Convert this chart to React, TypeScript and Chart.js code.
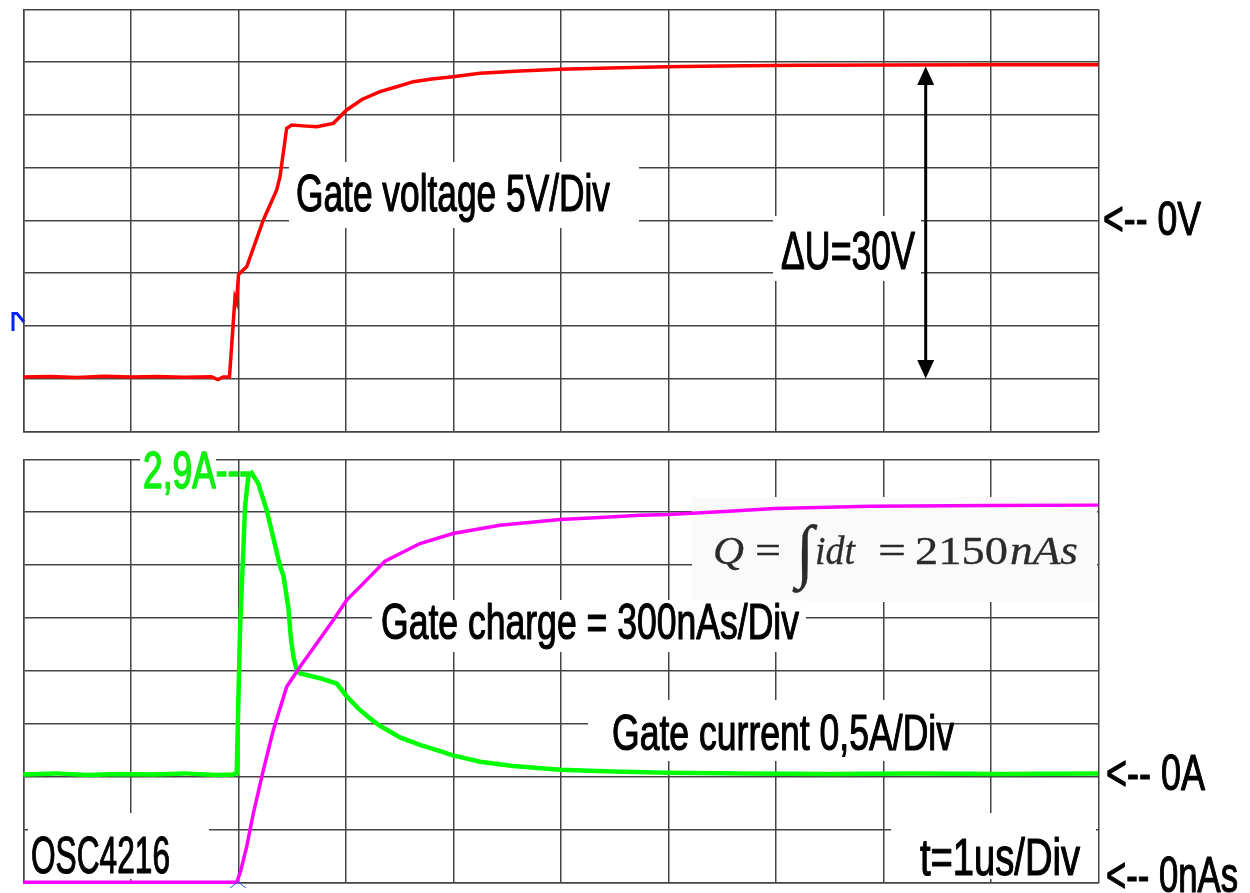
import React, { useEffect, useRef } from 'react';
import { Chart, registerables } from 'chart.js';

Chart.register(...registerables);

// Time axis (µs), 1 µs / div
const timeMin = 0;
const timeMax = 10;
const timeStep = 1;

// Upper trace: gate voltage (V), 5 V / div, 0 V at centre
const voltageMin = -20;
const voltageMax = 20;
const voltageStep = 5;

// Lower traces: gate current (A), 0.5 A / div, and gate charge (nAs), 300 nAs / div
const currentMin = -1;
const currentMax = 3;
const currentStep = 0.5;
const chargeMin = 0;
const chargeMax = 2400;

const voltageTime = [0, 0.25, 0.5, 0.75, 1.0, 1.25, 1.5, 1.75, 1.81, 1.86, 1.918, 1.969, 1.983, 2.002, 2.025, 2.078, 2.233, 2.357, 2.388, 2.45, 2.497, 2.6, 2.729, 2.884, 3.008, 3.15, 3.318, 3.473, 3.628, 3.8, 3.997, 4.248, 4.62, 4.993, 5.551, 5.988, 6.481, 7.225, 8.1, 9.0, 10];
const gateVoltage = [-14.85, -14.8, -14.9, -14.78, -14.85, -14.8, -14.88, -14.82, -15.1, -14.85, -14.85, -7.36, -7.74, -5.18, -4.9, -4.4, 0.03, 2.87, 4.13, 8.72, 9.03, 8.95, 8.87, 9.19, 10.46, 11.45, 12.19, 12.66, 13.14, 13.4, 13.61, 13.93, 14.15, 14.31, 14.46, 14.56, 14.63, 14.69, 14.72, 14.74, 14.75];

const currentTime = [0, 0.3, 0.6, 0.9, 1.2, 1.5, 1.8, 1.951, 1.985, 2.016, 2.063, 2.093, 2.125, 2.186, 2.264, 2.388, 2.42, 2.465, 2.49, 2.515, 2.545, 2.574, 2.76, 2.915, 3.008, 3.12, 3.225, 3.318, 3.504, 3.69, 3.876, 3.997, 4.25, 4.555, 4.993, 5.486, 5.988, 6.7, 7.5, 8.3, 9.1, 10];
const gateCurrent = [0.02, 0.03, 0.015, 0.025, 0.02, 0.03, 0.015, 0.02, 0.03, 1.39, 2.55, 2.84, 2.87, 2.77, 2.52, 1.99, 1.9, 1.6, 1.3, 1.12, 1.0, 0.975, 0.93, 0.88, 0.76, 0.64, 0.55, 0.48, 0.37, 0.3, 0.24, 0.2, 0.14, 0.1, 0.065, 0.048, 0.036, 0.03, 0.025, 0.03, 0.025, 0.03];

const chargeTime = [0, 1.985, 2.02, 2.078, 2.14, 2.233, 2.326, 2.45, 2.574, 2.729, 2.884, 3.008, 3.163, 3.365, 3.69, 3.997, 4.434, 4.993, 5.365, 5.737, 6.0, 6.481, 6.993, 7.876, 9.0, 10];
const gateCharge = [0, 0, 60, 202, 391, 637, 864, 1109, 1223, 1355, 1488, 1601, 1696, 1822, 1922, 1979, 2026, 2059, 2070, 2083, 2087, 2102, 2121, 2134, 2138, 2140];

const toPoints = (xs: number[], ys: number[]) => xs.map((x, i) => ({ x, y: ys[i] }));

const GRID = '#444444';
const SANS = '"Liberation Sans", Arial, sans-serif';
const SERIF = '"Liberation Serif", "Times New Roman", serif';

function label(ctx: CanvasRenderingContext2D, text: string, x: number, base: number, size: number, width: number, color: string, family = SANS, style = '', stroke = 1.2) {
  ctx.save();
  ctx.font = `${style} ${size}px ${family}`;
  const w = ctx.measureText(text).width;
  ctx.translate(x, base);
  ctx.scale(width / w, 1);
  ctx.fillStyle = color;
  ctx.strokeStyle = color;
  ctx.lineJoin = 'round';
  ctx.textAlign = 'left';
  ctx.textBaseline = 'alphabetic';
  ctx.fillText(text, 0, 0);
  if (stroke > 0) {
    ctx.lineWidth = stroke;
    ctx.strokeText(text, 0, 0);
  }
  ctx.restore();
}

function box(ctx: CanvasRenderingContext2D, x: number, y: number, w: number, h: number, color = '#ffffff') {
  ctx.fillStyle = color;
  ctx.fillRect(x, y, w, h);
}

function xScale() {
  return {
    type: 'linear' as const,
    min: timeMin,
    max: timeMax,
    ticks: { stepSize: timeStep, display: false },
    grid: { color: GRID, lineWidth: 1.5, drawTicks: false },
    border: { display: true, color: GRID, width: 1.5 },
    afterFit: (s: any) => { s.height = 0; },
  };
}

function yScale(min: number, max: number, step: number) {
  return {
    type: 'linear' as const,
    min,
    max,
    ticks: { stepSize: step, display: false },
    grid: { color: GRID, lineWidth: 1.5, drawTicks: false },
    border: { display: true, color: GRID, width: 1.5 },
    afterFit: (s: any) => { s.width = 0; },
  };
}

const topOverlay = {
  id: 'topOverlay',
  beforeDatasetsDraw(chart: any) {
    const ctx = chart.ctx as CanvasRenderingContext2D;
    ctx.save();
    box(ctx, 289, 162, 350, 66);
    box(ctx, 773, 216, 148, 65);
    ctx.restore();
  },
  afterDatasetsDraw(chart: any) {
    const ctx = chart.ctx as CanvasRenderingContext2D;
    ctx.save();
    label(ctx, 'Gate voltage 5V/Div', 296, 211, 51, 314, '#000');
    label(ctx, 'ΔU=30V', 781, 269, 53, 134, '#000');
    label(ctx, '<-- 0V', 1103, 235, 49, 98, '#000');
    // double arrow
    const ax = 925.7;
    ctx.strokeStyle = '#000';
    ctx.fillStyle = '#000';
    ctx.lineWidth = 3;
    ctx.beginPath();
    ctx.moveTo(ax, 80);
    ctx.lineTo(ax, 365);
    ctx.stroke();
    ctx.beginPath();
    ctx.moveTo(ax, 66.5);
    ctx.lineTo(ax - 8.5, 85);
    ctx.lineTo(ax + 8.5, 85);
    ctx.closePath();
    ctx.fill();
    ctx.beginPath();
    ctx.moveTo(ax, 378.5);
    ctx.lineTo(ax - 8.5, 360);
    ctx.lineTo(ax + 8.5, 360);
    ctx.closePath();
    ctx.fill();
    // trigger marker
    ctx.strokeStyle = '#0022ff';
    ctx.lineWidth = 3;
    ctx.beginPath();
    ctx.moveTo(13, 331);
    ctx.lineTo(13, 313.5);
    ctx.lineTo(17, 313.5);
    ctx.lineTo(24, 322);
    ctx.stroke();
    ctx.restore();
  },
};

const OFFSET = 445;

const bottomOverlay = {
  id: 'bottomOverlay',
  beforeDatasetsDraw(chart: any) {
    const ctx = chart.ctx as CanvasRenderingContext2D;
    ctx.save();
    ctx.translate(0, -OFFSET);
    box(ctx, 140, 446, 76, 48);
    box(ctx, 692, 497, 405, 105, '#fafafa');
    box(ctx, 372, 600, 434, 52);
    box(ctx, 588, 700, 352, 61);
    box(ctx, 28, 813, 181, 66);
    box(ctx, 891, 813, 205, 66);
    ctx.restore();
  },
  afterDatasetsDraw(chart: any) {
    const ctx = chart.ctx as CanvasRenderingContext2D;
    ctx.save();
    ctx.translate(0, -OFFSET);
    label(ctx, '2,9A---', 143, 488, 51, 108, '#11ee11', SANS, '', 1.6);
    label(ctx, 'Gate charge = 300nAs/Div', 381, 639, 50, 418, '#000');
    label(ctx, 'Gate current 0,5A/Div', 612, 750, 50, 342, '#000');
    label(ctx, '<-- 0A', 1106, 790, 50, 99, '#000');
    label(ctx, 'OSC4216', 31, 873, 52, 139, '#000');
    label(ctx, 't=1us/Div', 920, 875, 51, 160, '#000');
    label(ctx, '<-- 0nAs', 1106, 892, 50, 132, '#000');
    // formula
    const fc = '#2b2b2b';
    label(ctx, 'Q', 713, 564, 40, 31, fc, SERIF, 'italic', 0.3);
    label(ctx, '=', 755, 564, 40, 26, fc, SERIF, '', 0.3);
    label(ctx, '∫', 796, 574, 70, 18, fc, SERIF, '', 0.3);
    label(ctx, 'idt', 815, 564, 40, 40, fc, SERIF, 'italic', 0.3);
    label(ctx, '=', 878, 564, 40, 28, fc, SERIF, '', 0.3);
    label(ctx, '2150', 915, 564, 40, 93, fc, SERIF, '', 0.3);
    label(ctx, 'nAs', 1010, 564, 40, 68, fc, SERIF, 'italic', 0.3);
    // trigger marker
    ctx.strokeStyle = '#3355ff';
    ctx.lineWidth = 1;
    ctx.beginPath();
    ctx.moveTo(230, 888);
    ctx.lineTo(238, 882);
    ctx.lineTo(246, 888);
    ctx.stroke();
    ctx.restore();
  },
};

export default function App() {
  const topRef = useRef<HTMLCanvasElement>(null);
  const bottomRef = useRef<HTMLCanvasElement>(null);

  useEffect(() => {
    const top = new Chart(topRef.current as HTMLCanvasElement, {
      type: 'line',
      data: {
        datasets: [
          {
            label: 'Gate voltage',
            data: toPoints(voltageTime, gateVoltage),
            borderColor: '#ff0000',
            borderWidth: 3.5,
            pointRadius: 0,
            tension: 0,
            fill: false,
          },
        ],
      },
      options: {
        responsive: false,
        animation: false,
        events: [],
        layout: { padding: { left: 23.3, right: 151.7, top: 9.3, bottom: 13.7 } },
        plugins: { legend: { display: false }, tooltip: { enabled: false } },
        scales: {
          x: xScale(),
          y: yScale(voltageMin, voltageMax, voltageStep),
        },
      } as any,
      plugins: [topOverlay],
    });

    const bottom = new Chart(bottomRef.current as HTMLCanvasElement, {
      type: 'line',
      data: {
        datasets: [
          {
            label: 'Gate charge',
            data: toPoints(chargeTime, gateCharge),
            borderColor: '#ff00ff',
            borderWidth: 3.5,
            pointRadius: 0,
            tension: 0,
            fill: false,
            yAxisID: 'yQ',
            clip: 5,
          },
          {
            label: 'Gate current',
            data: toPoints(currentTime, gateCurrent),
            borderColor: '#00ff00',
            borderWidth: 4.5,
            pointRadius: 0,
            tension: 0,
            fill: false,
            yAxisID: 'y',
            clip: 5,
          },
        ],
      },
      options: {
        responsive: false,
        animation: false,
        events: [],
        layout: { padding: { left: 23.3, right: 151.7, top: 14.3, bottom: 10.7 } },
        plugins: { legend: { display: false }, tooltip: { enabled: false } },
        scales: {
          x: xScale(),
          y: yScale(currentMin, currentMax, currentStep),
          yQ: { type: 'linear', display: false, min: chargeMin, max: chargeMax },
        },
      } as any,
      plugins: [bottomOverlay],
    });

    return () => {
      top.destroy();
      bottom.destroy();
    };
  }, []);

  return (
    <div style={{ position: 'absolute', left: 0, top: 0, width: 1250, height: 893, background: '#ffffff', overflow: 'hidden' }}>
      <canvas ref={topRef} width={1250} height={445} style={{ position: 'absolute', left: 0, top: 0 }} />
      <canvas ref={bottomRef} width={1250} height={448} style={{ position: 'absolute', left: 0, top: OFFSET }} />
    </div>
  );
}
